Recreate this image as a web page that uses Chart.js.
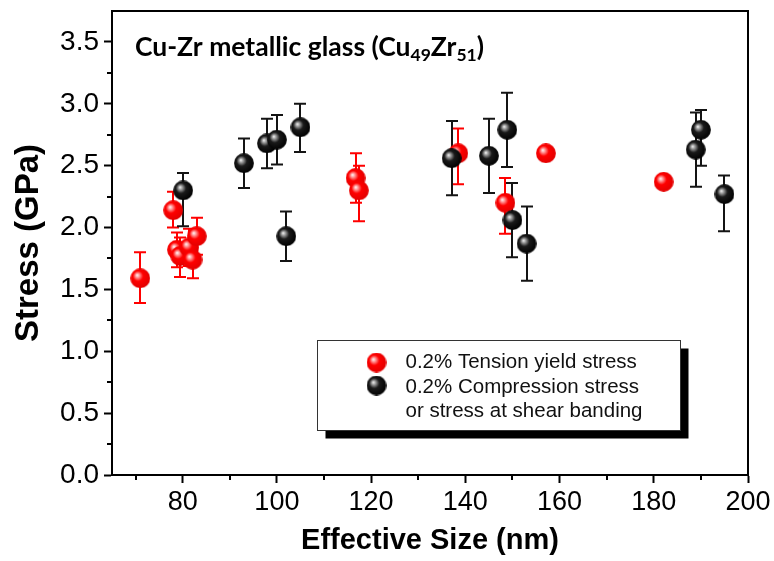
<!DOCTYPE html>
<html>
<head>
<meta charset="utf-8">
<script src="https://cdn.jsdelivr.net/npm/chart.js@4/dist/chart.umd.min.js"></script>
<style>
  html, body { margin: 0; padding: 0; background: #fff; }
  #wrap { width: 774px; height: 561px; }
</style>
</head>
<body>
<div id="wrap"><canvas id="c" width="774" height="561"></canvas></div>
<script>
// Cu49Zr51 nanopillars: stress (GPa) against effective size (nm)
const tensionSize   = [71.0, 78.0, 78.8, 79.5, 81.4, 82.1, 83.0, 116.7, 117.4, 138.5, 148.5, 157.1, 182.1];
const tensionStress = [1.59, 2.14, 1.82, 1.77, 1.84, 1.74, 1.93, 2.40, 2.30, 2.60, 2.20, 2.60, 2.37];
const tensionErrUp  = [0.21, 0.15, 0.14, 0.15, 0.15, 0.15, 0.15, 0.20, 0.20, 0.20, 0.20, 0.00, 0.00];
const tensionErrDn  = [0.20, 0.14, 0.14, 0.17, 0.15, 0.15, 0.15, 0.20, 0.25, 0.25, 0.25, 0.00, 0.00];

const compSize   = [80.1, 93.0, 97.9, 100.0, 102.0, 105.0, 137.1, 145.0, 148.9, 150.0, 153.0, 188.9, 190.0, 195.0];
const compStress = [2.30, 2.52, 2.68, 2.71, 1.93, 2.81, 2.56, 2.58, 2.79, 2.06, 1.87, 2.63, 2.79, 2.27];
const compErrUp  = [0.14, 0.20, 0.20, 0.20, 0.20, 0.19, 0.30, 0.30, 0.30, 0.30, 0.30, 0.30, 0.16, 0.15];
const compErrDn  = [0.29, 0.20, 0.20, 0.20, 0.20, 0.20, 0.30, 0.30, 0.30, 0.30, 0.30, 0.30, 0.29, 0.30];

const xTicks      = [80, 100, 120, 140, 160, 180, 200];
const xMinorTicks = [70, 90, 110, 130, 150, 170, 190];
const yTicks      = [0.0, 0.5, 1.0, 1.5, 2.0, 2.5, 3.0, 3.5];
const yMinorTicks = [0.25, 0.75, 1.25, 1.75, 2.25, 2.75, 3.25];

const tensionLabel = '0.2% Tension yield stress';
const compLabel    = ['0.2% Compression stress', 'or stress at shear banding'];

const SANS = "'Liberation Sans', Arial, sans-serif";

// Shaded sphere marker drawn once on a small canvas
function makeBall(mid, edge, glow) {
  const size = 20, c = document.createElement('canvas');
  c.width = size; c.height = size;
  const g = c.getContext('2d');
  const cx = size / 2, cy = size / 2, r = 9.9;
  const grad = g.createRadialGradient(cx - 3.2, cy - 3.2, 0, cx - 1, cy - 1, r + 1.5);
  grad.addColorStop(0.0, '#ffffff');
  grad.addColorStop(0.14, glow);
  grad.addColorStop(0.45, mid);
  grad.addColorStop(1.0, edge);
  g.fillStyle = grad;
  g.beginPath(); g.arc(cx, cy, r, 0, Math.PI * 2); g.fill();
  return c;
}
const redBall   = makeBall('#ff0000', '#e00000', '#ffb0b0');
const blackBall = makeBall('#1a1a1a', '#000000', '#b0b0b0');

// Vertical error bars with caps, drawn under the markers
const errorBars = {
  id: 'errorBars',
  beforeDatasetsDraw(chart) {
    const { ctx, scales: { x, y } } = chart;
    ctx.save();
    chart.data.datasets.slice().reverse().forEach(ds => {
      ctx.strokeStyle = ds.errColor;
      ctx.lineWidth = 2;
      ds.data.forEach((p, i) => {
        const up = ds.errUp[i], dn = ds.errDn[i];
        if (!up && !dn) return;
        const px = Math.round(x.getPixelForValue(p.x));
        const pt = y.getPixelForValue(p.y + up);
        const pb = y.getPixelForValue(p.y - dn);
        ctx.beginPath();
        ctx.moveTo(px, pt); ctx.lineTo(px, pb);
        ctx.moveTo(px - 6, pt); ctx.lineTo(px + 6, pt);
        ctx.moveTo(px - 6, pb); ctx.lineTo(px + 6, pb);
        ctx.stroke();
      });
    });
    ctx.restore();
  }
};

// Closed frame and minor ticks
const frame = {
  id: 'frame',
  afterDraw(chart) {
    const { ctx, chartArea: a, scales: { x, y } } = chart;
    ctx.save();
    ctx.strokeStyle = '#000';
    ctx.lineWidth = 2;
    ctx.beginPath();
    ctx.moveTo(a.left, a.top); ctx.lineTo(a.right, a.top); ctx.lineTo(a.right, a.bottom);
    ctx.stroke();
    ctx.beginPath();
    xMinorTicks.forEach(v => {
      const px = Math.round(x.getPixelForValue(v));
      ctx.moveTo(px, a.bottom); ctx.lineTo(px, a.bottom + 5);
    });
    yMinorTicks.forEach(v => {
      const py = Math.round(y.getPixelForValue(v));
      ctx.moveTo(a.left, py); ctx.lineTo(a.left - 5, py);
    });
    ctx.stroke();
    ctx.restore();
  }
};

// Title inside the plot, with subscripts
const plotTitle = {
  id: 'plotTitle',
  afterDraw(chart) {
    const { ctx, chartArea: a } = chart;
    const parts = [
      ['Cu-Zr metallic glass (Cu', false], ['49', true], ['Zr', false], ['51', true], [')', false]
    ];
    let xPos = a.left + 23;
    const base = a.top + 45;
    ctx.save();
    ctx.fillStyle = '#000';
    ctx.textBaseline = 'alphabetic';
    parts.forEach(([t, sub]) => {
      ctx.font = sub ? "bold 17.5px Lato, 'Open Sans', sans-serif" : "bold 26.5px Lato, 'Open Sans', sans-serif";
      ctx.fillText(t, xPos, sub ? base + 5 : base);
      xPos += ctx.measureText(t).width;
    });
    ctx.restore();
  }
};

// Boxed legend with drop shadow
const boxLegend = {
  id: 'boxLegend',
  afterDraw(chart) {
    const { ctx, chartArea: a } = chart;
    const bx = a.left + 205.5, by = a.top + 329.5, bw = 363, bh = 90;
    ctx.save();
    ctx.fillStyle = '#000';
    ctx.fillRect(bx + 8, by + 8, bw, bh);
    ctx.fillStyle = '#fff';
    ctx.fillRect(bx, by, bw, bh);
    ctx.strokeStyle = '#333';
    ctx.lineWidth = 1;
    ctx.strokeRect(bx, by, bw, bh);
    const ds = chart.data.datasets;
    const tension = ds.find(d => d.key === 'tension');
    const comp = ds.find(d => d.key === 'comp');
    ctx.drawImage(tension.pointStyle, bx + 49, by + 12);
    ctx.drawImage(comp.pointStyle, bx + 49, by + 35);
    ctx.fillStyle = '#111';
    ctx.font = '20.5px ' + SANS;
    ctx.textBaseline = 'middle';
    const tx = bx + 88;
    ctx.fillText(tension.label, tx, by + 22);
    ctx.fillText(comp.label[0], tx, by + 46.5);
    ctx.fillText(comp.label[1], tx, by + 71);
    ctx.restore();
  }
};

new Chart(document.getElementById('c'), {
  type: 'scatter',
  data: {
    datasets: [
      {
        key: 'comp', label: compLabel,
        data: compSize.map((v, i) => ({ x: v, y: compStress[i] })),
        pointStyle: blackBall, pointRadius: 10, order: 0,
        errUp: compErrUp, errDn: compErrDn, errColor: '#141414'
      },
      {
        key: 'tension', label: tensionLabel,
        data: tensionSize.map((v, i) => ({ x: v, y: tensionStress[i] })),
        pointStyle: redBall, pointRadius: 10, order: 1,
        errUp: tensionErrUp, errDn: tensionErrDn, errColor: '#ff0000'
      }
    ]
  },
  options: {
    responsive: false,
    animation: false,
    events: [],
    layout: { padding: { left: 0, top: 11, right: 26, bottom: 0 } },
    plugins: { legend: { display: false }, tooltip: { enabled: false } },
    scales: {
      x: {
        type: 'linear', min: 65, max: 200,
        afterBuildTicks: s => { s.ticks = xTicks.map(v => ({ value: v })); },
        afterFit: s => { s.height = 86; s.paddingLeft = 0; s.paddingRight = 0; },
        grid: { drawOnChartArea: false, drawTicks: true, tickLength: 8, tickWidth: 2, tickColor: '#000' },
        border: { display: true, color: '#000', width: 2 },
        ticks: { color: '#000', font: { family: SANS, size: 27 }, padding: 3, maxRotation: 0, autoSkip: false,
                 callback: v => String(v) },
        title: { display: true, text: 'Effective Size (nm)', color: '#000',
                 font: { family: SANS, size: 29, weight: 'bold' }, padding: { top: 0, bottom: 3 } }
      },
      y: {
        type: 'linear', min: 0, max: 3.75,
        afterBuildTicks: s => { s.ticks = yTicks.map(v => ({ value: v })); },
        afterFit: s => { s.width = 112; s.paddingTop = 0; s.paddingBottom = 0; },
        grid: { drawOnChartArea: false, drawTicks: true, tickLength: 8, tickWidth: 2, tickColor: '#000' },
        border: { display: true, color: '#000', width: 2 },
        ticks: { color: '#000', font: { family: SANS, size: 28 }, padding: 5, autoSkip: false,
                 callback: v => Number(v).toFixed(1) },
        title: { display: true, text: 'Stress (GPa)', color: '#000',
                 font: { family: SANS, size: 33, weight: 'bold' }, padding: { top: 9, bottom: 0 } }
      }
    }
  },
  plugins: [errorBars, frame, plotTitle, boxLegend]
});
</script>
</body>
</html>
